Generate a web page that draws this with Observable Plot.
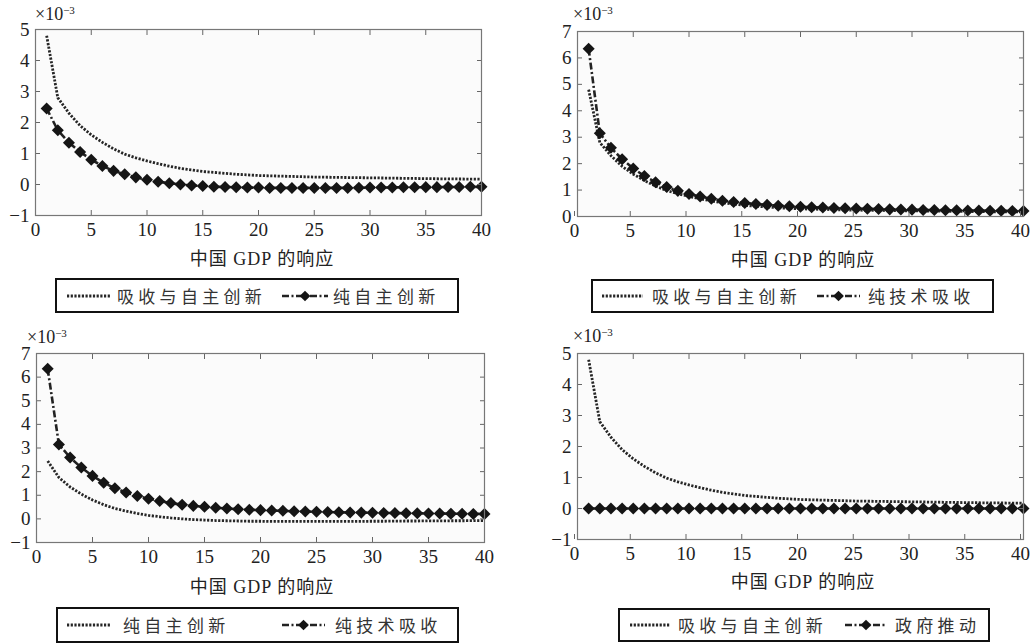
<!DOCTYPE html>
<html><head><meta charset="utf-8">
<script src="https://cdn.jsdelivr.net/npm/d3@7"></script>
<script src="https://cdn.jsdelivr.net/npm/@observablehq/plot@0.6"></script>
<style>
html,body{margin:0;padding:0;background:#fff;}
body{width:1030px;height:643px;position:relative;overflow:hidden;font-family:"Liberation Serif","Noto Sans CJK SC",serif;color:#222;}
.exp{position:absolute;font-size:18px;line-height:18px;white-space:nowrap;color:#222;font-family:"Liberation Serif",serif;}
.exp sup{font-size:11px;position:relative;top:-4px;vertical-align:top;}
.xlab{position:absolute;font-size:18px;line-height:18px;letter-spacing:1px;white-space:nowrap;transform:translateX(-50%);color:#222;}
.legend{position:absolute;border:2px solid #111;box-sizing:border-box;background:#fff;}
.legend .txt{position:absolute;font-size:17px;line-height:17px;letter-spacing:4.3px;white-space:nowrap;color:#333;font-family:"Noto Sans CJK SC",sans-serif;}
.legend svg{position:absolute;overflow:visible;}
</style></head>
<body>
<script>
// ---- data (values in units of 1e-3) ----
const periods = d3.range(1, 41);
const absorbAndInnovate = [4.80,2.80,2.30,1.90,1.60,1.36,1.15,0.98,0.86,0.76,
  0.67,0.59,0.52,0.47,0.42,0.39,0.36,0.33,0.31,0.29,
  0.28,0.27,0.26,0.25,0.24,0.235,0.23,0.225,0.22,0.215,
  0.21,0.205,0.20,0.195,0.19,0.185,0.18,0.178,0.175,0.17];
const pureInnovation = [2.45,1.75,1.35,1.05,0.80,0.60,0.44,0.33,0.23,0.15,
  0.09,0.04,0.00,-0.03,-0.05,-0.07,-0.08,-0.09,-0.10,-0.10,
  -0.11,-0.11,-0.11,-0.11,-0.11,-0.11,-0.11,-0.11,-0.105,-0.10,
  -0.10,-0.095,-0.09,-0.09,-0.085,-0.085,-0.08,-0.08,-0.075,-0.075];
const pureAbsorption = [6.35,3.15,2.60,2.17,1.82,1.53,1.30,1.12,0.97,0.85,
  0.76,0.67,0.60,0.55,0.51,0.47,0.44,0.41,0.39,0.37,
  0.35,0.34,0.32,0.31,0.30,0.29,0.28,0.27,0.265,0.26,
  0.25,0.245,0.24,0.235,0.23,0.225,0.22,0.215,0.21,0.21];
const governmentPush = [0,0,0,0,0,0,0,0,0,0, 0,0,0,0,0,0,0,0,0,0,
  0,0,0,0,0,0,0,0,0,0, 0,0,0,0,0,0,0,0,0,0];
const xTicks = [0,5,10,15,20,25,30,35,40];
const xLabel = "中国 GDP 的响应";
const nameAI = "吸收与自主创新", namePI = "纯自主创新", namePA = "纯技术吸收", nameGP = "政府推动";

const rows = vals => periods.map((p, i) => ({period: p, value: vals[i]}));

const panels = [
  {left:0, top:0, width:515, height:245, ml:35, mr:34, mt:29, mb:30, yDomain:[-1,5], yTicks:d3.range(-1,6), xdx:0,
   dotted:absorbAndInnovate, marked:pureInnovation, names:[nameAI, namePI],
   exp:{x:35, base:20}, lab:{x:262, y:250},
   legend:{x:55, y:278, w:404, h:35, s1:[67,110], t1:117, s2:[282,328], t2:333}},
  {left:520, top:0, width:510, height:246, ml:57, mr:7, mt:31, mb:30, yDomain:[0,7], yTicks:d3.range(0,8), xdx:-3,
   dotted:absorbAndInnovate, marked:pureAbsorption, names:[nameAI, namePA],
   exp:{x:573, base:20}, lab:{x:803, y:251},
   legend:{x:591, y:279, w:403, h:34, s1:[602,643], t1:652, s2:[817,860], t2:868}},
  {left:0, top:320, width:515, height:252, ml:36, mr:31, mt:33, mb:30, yDomain:[-1,7], yTicks:d3.range(-1,8), xdx:0,
   dotted:pureInnovation, marked:pureAbsorption, names:[namePI, namePA],
   exp:{x:27, base:343}, lab:{x:262, y:578},
   legend:{x:56, y:607, w:403, h:36, s1:[67,110], t1:123, s2:[282,325], t2:335}},
  {left:520, top:320, width:510, height:249, ml:57, mr:7, mt:33, mb:30, yDomain:[-1,5], yTicks:d3.range(-1,6), xdx:-3,
   dotted:absorbAndInnovate, marked:governmentPush, names:[nameAI, nameGP],
   exp:{x:573, base:342}, lab:{x:803, y:573},
   legend:{x:618, y:608, w:372, h:34, s1:[630,670], t1:678, s2:[845,887], t2:895}}
];

const INK = "#222";
const dottedStyle = {stroke: "#262626", strokeWidth: 2.8, strokeDasharray: "2.2,1.5"};
const markedStyle = {stroke: INK, strokeWidth: 2.6, strokeDasharray: "7,2.5,2,2.5"};
const intFmt = d3.format("d");
const axisFont = {fontSize: 19, fontFamily: '"Liberation Serif", serif'};

for (const p of panels) {
  const chart = Plot.plot({
    width: p.width, height: p.height,
    marginLeft: p.ml, marginRight: p.mr, marginTop: p.mt, marginBottom: p.mb,
    x: {domain: [0, 40], label: null},
    y: {domain: p.yDomain, label: null},
    style: {fontFamily: '"Liberation Serif", serif', fontSize: "19px", color: INK, background: "transparent", overflow: "visible"},
    marks: [
      Plot.frame({fill: "#fbfbfb"}),
      Plot.line(rows(p.dotted), {x: "period", y: "value", strokeLinecap: "butt", strokeLinejoin: "miter", ...dottedStyle}),
      Plot.line(rows(p.marked), {x: "period", y: "value", strokeLinecap: "butt", strokeLinejoin: "miter", ...markedStyle}),
      Plot.dot(rows(p.marked), {x: "period", y: "value", symbol: "square", rotate: 45, r: 4.8, fill: "#151515", stroke: "none"}),
      Plot.axisX({ticks: xTicks, tickSize: -5, tickPadding: 12, tickFormat: intFmt, stroke: "#666", label: null, dx: p.xdx, ...axisFont}),
      Plot.axisX({anchor: "top", ticks: xTicks, tickSize: -5, tickFormat: () => "", stroke: "#666", label: null}),
      Plot.axisY({ticks: p.yTicks, tickSize: -5, tickPadding: 11, tickFormat: intFmt, stroke: "#666", label: null, ...axisFont}),
      Plot.axisY({anchor: "right", ticks: p.yTicks, tickSize: -5, tickFormat: () => "", stroke: "#666", label: null}),
      Plot.frame({stroke: "#777", strokeWidth: 1.2})
    ]
  });
  chart.style.position = "absolute";
  chart.style.left = p.left + "px";
  chart.style.top = p.top + "px";
  document.body.appendChild(chart);

  // ×10^-3 exponent label
  const e = document.createElement("div");
  e.className = "exp";
  e.style.left = p.exp.x + "px";
  e.style.top = (p.exp.base - 15) + "px";
  e.innerHTML = "×10<sup>−3</sup>";
  document.body.appendChild(e);

  // x axis title
  const l = document.createElement("div");
  l.className = "xlab";
  l.style.left = p.lab.x + "px";
  l.style.top = p.lab.y + "px";
  l.textContent = xLabel;
  document.body.appendChild(l);

  // legend
  const L = p.legend;
  const box = document.createElement("div");
  box.className = "legend";
  Object.assign(box.style, {left: L.x + "px", top: L.y + "px", width: L.w + "px", height: L.h + "px"});
  const cy = L.h / 2 - 2;
  const mkSample = (range, marked) => {
    const w = range[1] - range[0];
    const s = d3.create("svg").attr("width", w).attr("height", 12)
      .style("left", (range[0] - L.x - 2) + "px").style("top", (cy - 6) + "px");
    const st = marked ? markedStyle : dottedStyle;
    s.append("line").attr("x1", 0).attr("x2", w).attr("y1", 6).attr("y2", 6)
      .attr("stroke", st.stroke).attr("stroke-width", st.strokeWidth).attr("stroke-dasharray", st.strokeDasharray);
    if (marked) s.append("rect").attr("x", w / 2 - 3.8).attr("y", 2.2).attr("width", 7.6).attr("height", 7.6)
      .attr("fill", "#151515").attr("transform", `rotate(45 ${w / 2} 6)`);
    return s.node();
  };
  const mkText = (x, t) => {
    const d = document.createElement("div");
    d.className = "txt";
    d.style.left = (x - L.x - 2) + "px";
    d.style.top = (cy - 9) + "px";
    d.textContent = t;
    return d;
  };
  box.appendChild(mkSample(L.s1, false));
  box.appendChild(mkText(L.t1, p.names[0]));
  box.appendChild(mkSample(L.s2, true));
  box.appendChild(mkText(L.t2, p.names[1]));
  document.body.appendChild(box);
}
</script>
</body></html>
